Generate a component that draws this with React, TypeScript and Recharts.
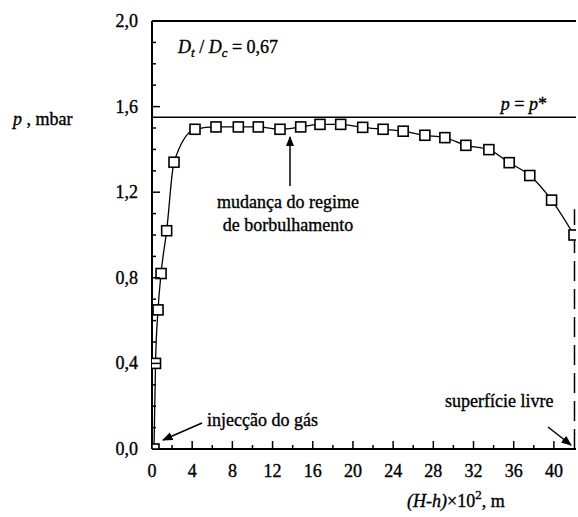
import { LineChart, Line, XAxis, YAxis, ReferenceLine } from 'recharts';

// distance along the column, (H-h)x10^2 m
const heightValues = [0.2, 0.35, 0.6, 0.9, 1.46, 2.19, 4.28, 6.37, 8.59, 10.58, 12.74, 14.8, 16.72, 18.78, 20.97, 23.0, 25.0, 27.16, 29.15, 31.24, 33.53, 35.55, 37.6, 39.77, 42.0];
// pressure p, mbar
const pressureValues = [0, 0.4, 0.65, 0.82, 1.02, 1.34, 1.494, 1.505, 1.505, 1.505, 1.494, 1.505, 1.517, 1.517, 1.503, 1.494, 1.485, 1.466, 1.455, 1.419, 1.399, 1.338, 1.278, 1.163, 1.0];

const xTicks = [0, 2, 4, 6, 8, 10, 12, 14, 16, 18, 20, 22, 24, 26, 28, 30, 32, 34, 36, 38, 40];
const yTicks = [0, 0.1, 0.2, 0.3, 0.4, 0.5, 0.6, 0.7, 0.8, 0.9, 1.0, 1.1, 1.2, 1.3, 1.4, 1.5, 1.6, 1.7, 1.8, 1.9, 2.0];

const pStar = 1.55;
const freeSurface = 42.05;

const data = heightValues.map((x, i) => ({ x, p: pressureValues[i] }));

const FONT = '"Liberation Serif", "Times New Roman", serif';

const XTick = (props: any) => {
  const { x, y, payload } = props;
  const major = payload.value % 4 === 0;
  return (
    <g>
      <line x1={x} y1={y} x2={x} y2={y - (major ? 8 : 4)} stroke="#000" strokeWidth={1.5} />
      {major && (
        <text x={x} y={y + 28} textAnchor="middle" fontSize={18} fontFamily={FONT} fill="#000" stroke="#000" strokeWidth={0.35}>
          {payload.value}
        </text>
      )}
    </g>
  );
};

const YTick = (props: any) => {
  const { x, y, payload } = props;
  const major = Math.round(payload.value * 10) % 4 === 0;
  return (
    <g>
      <line x1={x} y1={y} x2={x + (major ? 8 : 4)} y2={y} stroke="#000" strokeWidth={1.5} />
      {major && (
        <text x={x - 14} y={y + 6} textAnchor="end" fontSize={18} fontFamily={FONT} fill="#000" stroke="#000" strokeWidth={0.35}>
          {payload.value.toFixed(1).replace('.', ',')}
        </text>
      )}
    </g>
  );
};

const SquareDot = (props: any) => {
  const { cx, cy, index } = props;
  return <rect key={index} x={cx - 5} y={cy - 5} width={10} height={10} fill="#fff" stroke="#000" strokeWidth={1.6} />;
};

export default function App() {
  return (
    <div style={{ position: 'absolute', left: 0, top: 0, background: '#fff' }}>
      <LineChart
        width={578}
        height={517}
        data={data}
        margin={{ top: 21, right: 2, bottom: 0, left: 0 }}
        style={{ fontFamily: FONT }}
      >
        <defs>
          <marker id="arrow" viewBox="0 0 10 10" refX="9" refY="5" markerWidth="7" markerHeight="7" orient="auto">
            <path d="M0,1 L10,5 L0,9 z" fill="#000" />
          </marker>
        </defs>
        <XAxis
          type="number"
          dataKey="x"
          domain={[0, 42.2]}
          ticks={xTicks}
          interval={0}
          height={68}
          tickSize={0}
          tickMargin={0}
          tickLine={false}
          axisLine={{ stroke: '#000', strokeWidth: 2 }}
          tick={<XTick />}
          allowDataOverflow
        />
        <YAxis
          type="number"
          domain={[0, 2]}
          ticks={yTicks}
          interval={0}
          width={152}
          tickSize={0}
          tickMargin={0}
          tickLine={false}
          axisLine={{ stroke: '#000', strokeWidth: 2 }}
          tick={<YTick />}
          allowDataOverflow
        />
        <ReferenceLine y={2} stroke="#000" strokeWidth={2} />
        <ReferenceLine y={pStar} stroke="#000" strokeWidth={1.5} />
        <ReferenceLine
          segment={[{ x: freeSurface, y: 0 }, { x: freeSurface, y: 1.12 }]}
          stroke="#000"
          strokeWidth={1.5}
          strokeDasharray="20 8"
        />
        <Line
          type="monotone"
          dataKey="p"
          stroke="#000"
          strokeWidth={1.3}
          dot={<SquareDot />}
          activeDot={false}
          isAnimationActive={false}
        />

        <g fontFamily={FONT} fill="#000" stroke="#000" strokeWidth={0.35}>
          <text x={13} y={125} fontSize={18}>
            <tspan fontStyle="italic">p</tspan> , mbar
          </text>
          <text x={407} y={507} fontSize={18}>
            <tspan fontStyle="italic">(H-h)</tspan>×10<tspan fontSize={13} dy={-8}>2</tspan>
            <tspan dy={8}>,  m</tspan>
          </text>
          <text x={178} y={53} fontSize={18}>
            <tspan fontStyle="italic">D</tspan>
            <tspan fontStyle="italic" fontSize={13} dy={4}>t</tspan>
            <tspan dy={-4}> / </tspan>
            <tspan fontStyle="italic">D</tspan>
            <tspan fontStyle="italic" fontSize={13} dy={4}>c</tspan>
            <tspan dy={-4}> = 0,67</tspan>
          </text>
          <text x={547} y={110} fontSize={18} textAnchor="end">
            <tspan fontStyle="italic">p</tspan> = <tspan fontStyle="italic">p</tspan>*
          </text>
          <text x={288} y={208} fontSize={18} textAnchor="middle">mudança do regime</text>
          <text x={288} y={231} fontSize={18} textAnchor="middle">de borbulhamento</text>
          <text x={207} y={426} fontSize={18}>injecção do gás</text>
          <text x={445} y={407} fontSize={18}>superfície livre</text>
        </g>
        <line x1={290} y1={186} x2={290} y2={137} stroke="#000" strokeWidth={1.5} markerEnd="url(#arrow)" />
        <line x1={202} y1={423} x2={163} y2={440} stroke="#000" strokeWidth={1.5} markerEnd="url(#arrow)" />
        <line x1={548} y1={427} x2={571} y2={445} stroke="#000" strokeWidth={1.5} markerEnd="url(#arrow)" />
      </LineChart>
    </div>
  );
}
